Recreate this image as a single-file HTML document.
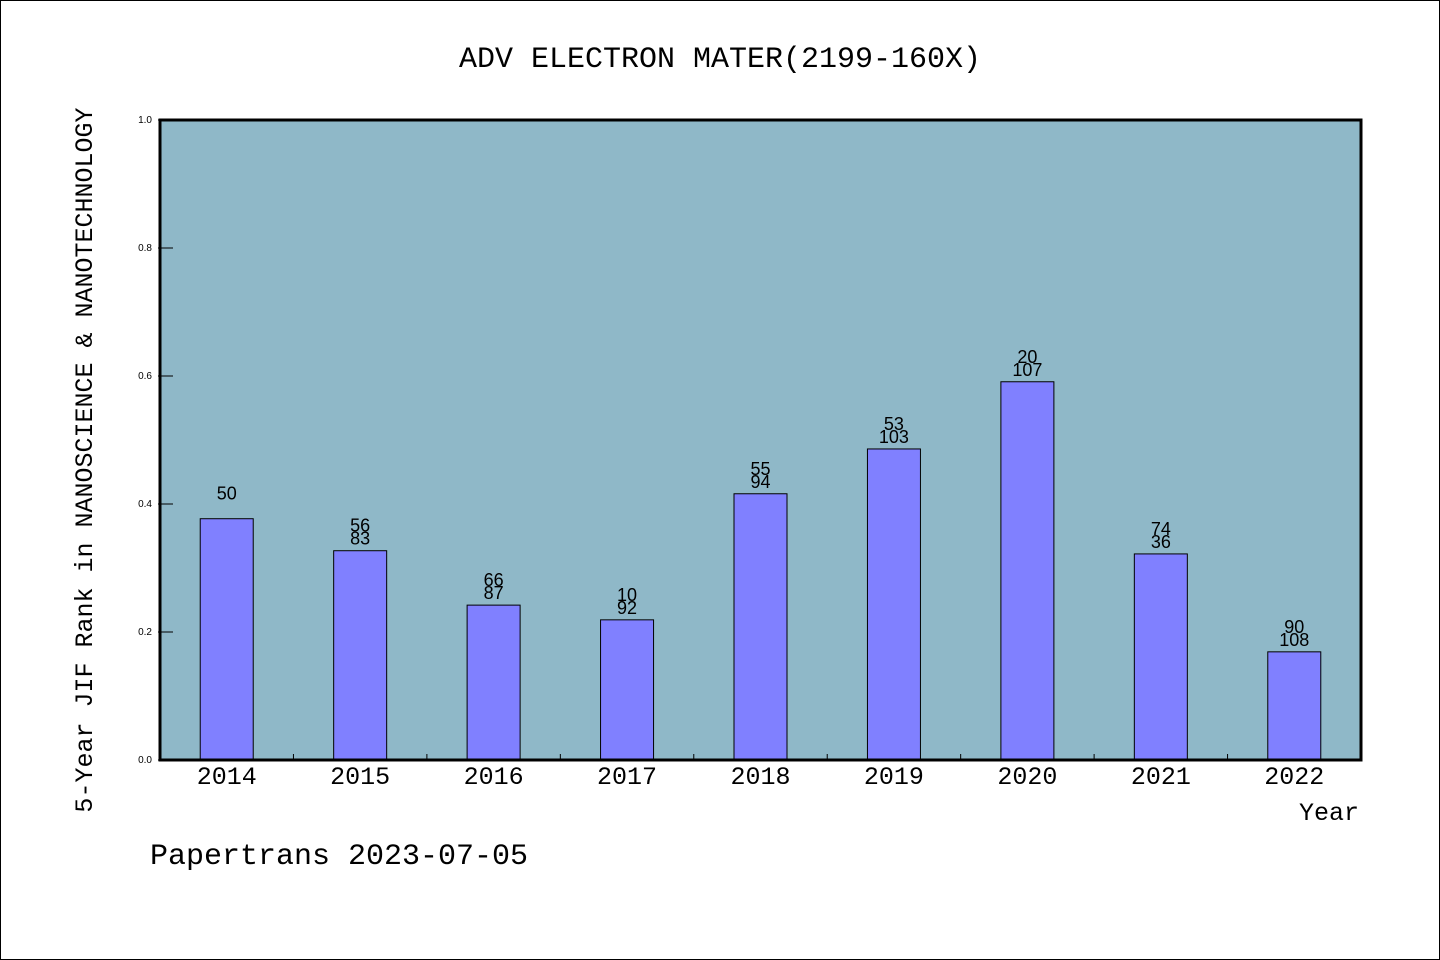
<!DOCTYPE html>
<html><head><meta charset="utf-8"><style>
html,body{margin:0;padding:0;background:#fff;}
svg{display:block;}
text{font-family:"WenQuanYi Zen Hei","Liberation Mono",monospace;fill:#000;}
text.sans{font-family:"Liberation Sans",sans-serif;}
</style></head><body>
<svg width="1440" height="960">
<rect x="0.5" y="0.5" width="1439" height="959" fill="#fff" stroke="#000" stroke-width="1"/>
<text x="720" y="67" font-size="30" text-anchor="middle">ADV ELECTRON MATER(2199-160X)</text>
<rect x="160" y="120" width="1201" height="640" fill="#8fb8c8"/>
<g id="g"></g>
<rect x="160" y="120" width="1201" height="640" fill="none" stroke="#000" stroke-width="3"/>
<text transform="translate(92,460) rotate(-90)" font-size="25" text-anchor="middle">5-Year JIF Rank in NANOSCIENCE &amp; NANOTECHNOLOGY</text>
<text x="1359" y="820" font-size="25" text-anchor="end">Year</text>
<text x="150" y="864" font-size="30">Papertrans 2023-07-05</text>
</svg>
<script>
const categories=["2014","2015","2016","2017","2018","2019","2020","2021","2022"];
const values=[0.377,0.327,0.242,0.219,0.416,0.486,0.591,0.322,0.169];
const rankTop=["","56","66","10","55","53","20","74","90"];
const rankBottom=["50","83","87","92","94","103","107","36","108"];
const yTicks=[0,0.2,0.4,0.6,0.8,1.0];
const X0=160,W=1201,Y0=760,H=640;
const step=W/categories.length;
const xc=i=>X0+step*(i+0.5);
const y=v=>Y0-v*H;
const g=document.getElementById('g');
const NS='http://www.w3.org/2000/svg';
function mk(tag,attrs,txt){const e=document.createElementNS(NS,tag);for(const k in attrs)e.setAttribute(k,attrs[k]);if(txt!==undefined)e.textContent=txt;g.appendChild(e);return e;}
yTicks.forEach(t=>{
 const l=mk('line',{x1:X0-2,x2:X0+13,y1:y(t),y2:y(t),stroke:'#000','stroke-width':1});
 
 
 const tx=mk('text',{x:X0-8,y:y(t)+3,'font-size':10,'text-anchor':'end','class':'sans'},t.toFixed(1));
 
 
});
for(let i=1;i<categories.length;i++){
 const l=mk('line',{x1:X0+step*i,x2:X0+step*i,y1:Y0,y2:Y0-6,stroke:'#000','stroke-width':1});
 
 
}
const bw=53;
categories.forEach((c,i)=>{
 const b=mk('rect',{x:xc(i)-bw/2,y:y(values[i]),width:bw,height:values[i]*H,fill:'#8080ff',stroke:'#000','stroke-width':1});
 
 
 const t=mk('text',{x:xc(i),y:Y0+24,'font-size':25,'text-anchor':'middle'},c);
 
 
 const top=y(values[i]);
 if(rankTop[i]){
  const a=mk('text',{x:xc(i),y:top-19,'font-size':18,'text-anchor':'middle','class':'sans'},rankTop[i]);
  
  
  const b2=mk('text',{x:xc(i),y:top-6,'font-size':18,'text-anchor':'middle','class':'sans'},rankBottom[i]);
  
  
 } else {
  const b2=mk('text',{x:xc(i),y:top-19,'font-size':18,'text-anchor':'middle','class':'sans'},rankBottom[i]);
  
  
 }
});
</script>
</body></html>
